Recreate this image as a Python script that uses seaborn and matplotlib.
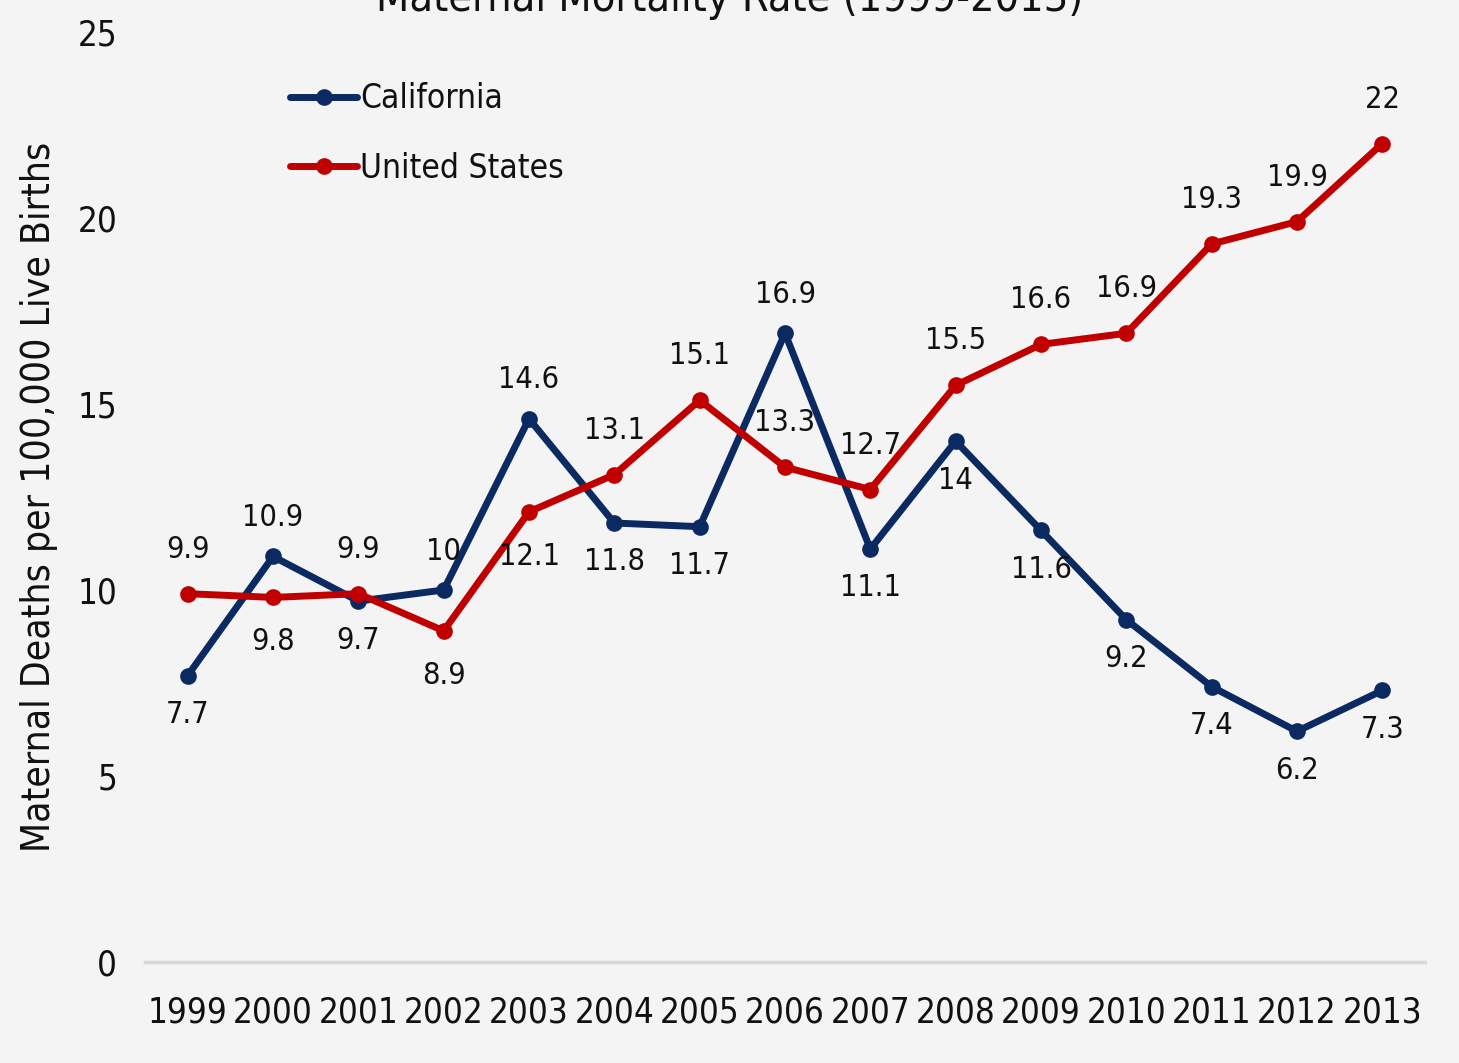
import pandas as pd
import matplotlib.pyplot as plt
import seaborn as sns

years = ['1999', '2000', '2001', '2002', '2003', '2004', '2005', '2006',
         '2007', '2008', '2009', '2010', '2011', '2012', '2013']
california = [7.7, 10.9, 9.7, 10, 14.6, 11.8, 11.7, 16.9, 11.1, 14, 11.6, 9.2, 7.4, 6.2, 7.3]
united_states = [9.9, 9.8, 9.9, 8.9, 12.1, 13.1, 15.1, 13.3, 12.7, 15.5, 16.6, 16.9, 19.3, 19.9, 22]

# where each value label sits: +1 above the point, -1 below
ca_side = [-1, 1, -1, 1, 1, -1, -1, 1, -1, -1, -1, -1, -1, -1, -1]
us_side = [1, -1, 1, -1, -1, 1, 1, 1, 1, 1, 1, 1, 1, 1, 1]

sns.set_style('white')
plt.rcParams['font.family'] = ['DejaVu Sans Condensed', 'Liberation Sans Narrow', 'DejaVu Sans']
plt.rcParams['font.stretch'] = 'condensed'
plt.rcParams['text.color'] = '#111111'
plt.rcParams['xtick.color'] = '#111111'
plt.rcParams['ytick.color'] = '#111111'
plt.rcParams['axes.labelcolor'] = '#111111'

df = pd.DataFrame({
    'Year': years * 2,
    'Rate': california + united_states,
    'Area': ['California'] * len(years) + ['United States'] * len(years),
})

BG = '#f4f4f4'
colors = {'California': '#0b2a62', 'United States': '#c00000'}

fig = plt.figure(figsize=(14.59, 10.63), dpi=100, facecolor=BG)
ax = fig.add_axes([0.0994, 0.095, 0.8773, 0.875])
ax.set_facecolor(BG)

sns.lineplot(data=df, x='Year', y='Rate', hue='Area', palette=colors, ax=ax,
             marker='o', markersize=12, markeredgewidth=0, linewidth=5,
             sort=False)

ax.set_xlim(-0.5, len(years) - 0.5)
ax.set_ylim(0, 25)
ax.set_yticks([0, 5, 10, 15, 20, 25])
ax.tick_params(axis='x', labelsize=25, length=0, pad=24)
ax.tick_params(axis='y', labelsize=25, length=0, pad=20)
for s in ['top', 'right', 'left']:
    ax.spines[s].set_visible(False)
ax.spines['bottom'].set_color('#d9d9d9')
ax.spines['bottom'].set_linewidth(2.5)

ax.set_xlabel('')
ax.set_ylabel('Maternal Deaths per 100,000 Live Births', fontsize=28, labelpad=14)

for i, (v, s) in enumerate(zip(california, ca_side)):
    ax.annotate(f'{v:g}', (i, v), xytext=(0, 28 * s), textcoords='offset points',
                ha='center', va='center', fontsize=22)
for i, (v, s) in enumerate(zip(united_states, us_side)):
    ax.annotate(f'{v:g}', (i, v), xytext=(0, 32 * s), textcoords='offset points',
                ha='center', va='center', fontsize=22)

leg = ax.legend(loc='upper left', bbox_to_anchor=(0.09, 0.978), frameon=False,
                fontsize=24, handlelength=2.0, handletextpad=0.1, labelspacing=1.1)
for h in leg.legend_handles:
    h.set_linewidth(5)
    h.set_markersize(12)

fig.text(0.5, 1 - 11 / 1063, 'Maternal Mortality Rate (1999-2013)', ha='center',
         va='baseline', fontsize=31)

plt.savefig('out.png', dpi=100, facecolor=BG)
plt.close()
